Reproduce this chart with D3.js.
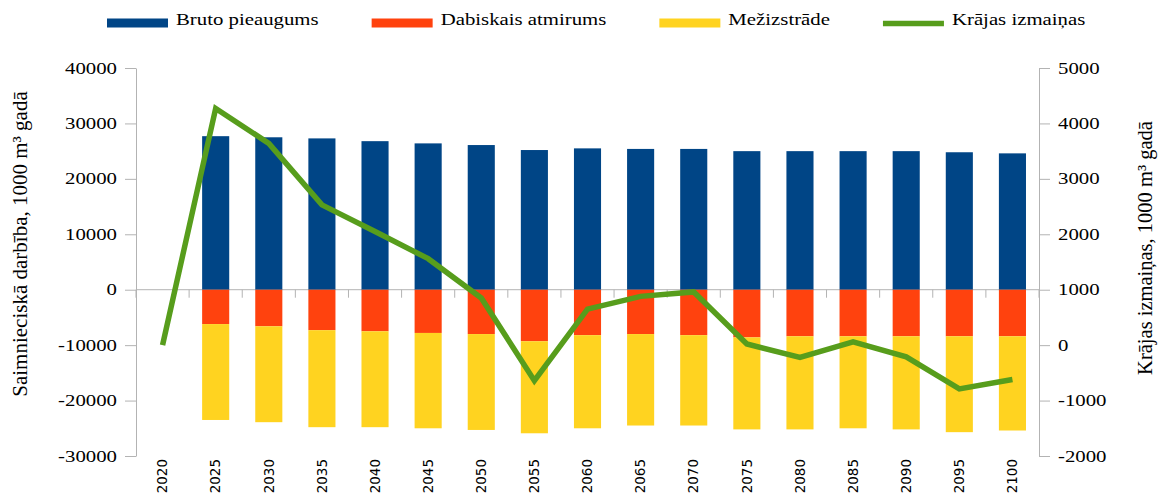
<!DOCTYPE html>
<html>
<head>
<meta charset="utf-8">
<script src="https://cdn.jsdelivr.net/npm/d3@7"></script>
<style>
  body { margin: 0; background: #fff; }
  svg { display: block; }
</style>
</head>
<body>
<svg id="chart"></svg>
<script>
// data
const years = ["2020", "2025", "2030", "2035", "2040", "2045", "2050", "2055", "2060",
  "2065", "2070", "2075", "2080", "2085", "2090", "2095", "2100"]
const bruto = [0, 27700, 27500, 27300, 26800, 26400, 26100, 25200, 25500,
  25400, 25400, 25000, 25000, 25000, 25000, 24800, 24600]
const atmirums = [0, -6200, -6600, -7300, -7500, -7800, -8000, -9300, -8200,
  -8000, -8200, -8600, -8400, -8400, -8400, -8400, -8400]
const mezizstrade = [0, -17300, -17300, -17500, -17300, -17200, -17300, -16600, -16800,
  -16500, -16300, -16600, -16800, -16600, -16800, -17300, -17000]
const krajas = [0, 4270, 3640, 2530, 2050, 1560, 850, -640, 650,
  880, 960, 20, -220, 60, -210, -790, -620]
const leftTicks = [-30000, -20000, -10000, 0, 10000, 20000, 30000, 40000]
const rightTicks = [-2000, -1000, 0, 1000, 2000, 3000, 4000, 5000]

const legendItems = [
  { key: "bruto", label: "Bruto pieaugums", type: "bar" },
  { key: "atmirums", label: "Dabiskais atmirums", type: "bar" },
  { key: "mezizstrade", label: "Mežizstrāde", type: "bar" },
  { key: "krajas", label: "Krājas izmaiņas", type: "line" }
]

const width = 1158
const height = 502
// the original text is drawn wider than it is tall
const stretch = 1.3
const plot = { left: 136, right: 1039, top: 68, bottom: 456 }
const colors = {
  bruto: "#004586",
  atmirums: "#ff420e",
  mezizstrade: "#ffd320",
  krajas: "#579d1c"
}
const axisColor = "#b3b3b3"
const serif = "'Liberation Serif', 'Times New Roman', serif"

const svg = d3.select("#chart")
  .attr("width", width)
  .attr("height", height)

const x = d3.scaleBand().domain(years).range([plot.left, plot.right])
const yL = d3.scaleLinear().domain([-30000, 40000]).range([plot.bottom, plot.top])
const yR = d3.scaleLinear().domain([-2000, 5000]).range([plot.bottom, plot.top])

const rows = years.map((year, i) => ({
  year: year,
  bruto: bruto[i],
  atmirums: atmirums[i],
  mezizstrade: mezizstrade[i]
}))
const series = d3.stack()
  .keys(["bruto", "atmirums", "mezizstrade"])
  .offset(d3.stackOffsetDiverging)(rows)

function styleAxis(g, side) {
  g.attr("font-family", serif).attr("font-size", 16)
  g.select(".domain").attr("stroke", axisColor)
  g.selectAll(".tick line").attr("stroke", axisColor)
  g.selectAll(".tick text")
    .attr("x", null)
    .attr("fill", "#000")
    .attr("transform", `translate(${side * 19},0) scale(${stretch},1)`)
}

// left axis
svg.append("g")
  .attr("transform", `translate(${plot.left},0)`)
  .call(d3.axisLeft(yL).tickValues(leftTicks).tickSize(11).tickSizeOuter(0).tickFormat(d => String(d)))
  .call(g => styleAxis(g, -1))

// right axis
svg.append("g")
  .attr("transform", `translate(${plot.right},0)`)
  .call(d3.axisRight(yR).tickValues(rightTicks).tickSize(11).tickSizeOuter(0).tickFormat(d => String(d)))
  .call(g => styleAxis(g, 1))

// category axis on the zero line
const zeroY = yL(0)
const xAxis = svg.append("g")
xAxis.append("line")
  .attr("x1", plot.left)
  .attr("x2", plot.right)
  .attr("y1", zeroY)
  .attr("y2", zeroY)
  .attr("stroke", axisColor)
xAxis.selectAll(".xtick")
  .data(years.map(d => x(d)).concat([plot.right]))
  .join("line")
  .attr("class", "xtick")
  .attr("x1", d => d)
  .attr("x2", d => d)
  .attr("y1", zeroY)
  .attr("y2", zeroY + 8)
  .attr("stroke", axisColor)

svg.append("g")
  .selectAll("text")
  .data(years)
  .join("text")
  .attr("transform", d => `translate(${x(d) + x.bandwidth() / 2},459) rotate(-90)`)
  .attr("text-anchor", "end")
  .attr("dy", "0.35em")
  .attr("font-family", "'DejaVu Sans', sans-serif")
  .attr("font-size", 13.5)
  .attr("fill", "#000")
  .text(d => d)

// stacked bars
const barW = x.bandwidth() * 0.51
svg.append("g")
  .selectAll("g")
  .data(series)
  .join("g")
  .attr("fill", d => colors[d.key])
  .selectAll("rect")
  .data(d => d)
  .join("rect")
  .attr("x", d => x(d.data.year) + (x.bandwidth() - barW) / 2)
  .attr("y", d => yL(Math.max(d[0], d[1])))
  .attr("width", barW)
  .attr("height", d => Math.abs(yL(d[0]) - yL(d[1])))

// stock change line on the right axis
const line = d3.line()
  .x((d, i) => x(years[i]) + x.bandwidth() / 2)
  .y(d => yR(d))

svg.append("path")
  .datum(krajas)
  .attr("d", line)
  .attr("fill", "none")
  .attr("stroke", colors.krajas)
  .attr("stroke-width", 5.5)

// axis titles
svg.append("text")
  .attr("transform", "translate(20,244) rotate(-90)")
  .attr("text-anchor", "middle")
  .attr("dy", "0.35em")
  .attr("font-family", serif)
  .attr("font-size", 21)
  .attr("fill", "#000")
  .text("Saimnieciskā darbība, 1000 m³ gadā")

svg.append("text")
  .attr("transform", "translate(1145,248) rotate(-90)")
  .attr("text-anchor", "middle")
  .attr("dy", "0.35em")
  .attr("font-family", serif)
  .attr("font-size", 20.5)
  .attr("fill", "#000")
  .text("Krājas izmaiņas, 1000 m³ gadā")

// legend
const legend = svg.append("g")
let cursor = 107
legendItems.forEach(item => {
  if (item.type == "bar") {
    legend.append("rect")
      .attr("x", cursor)
      .attr("y", 18.5)
      .attr("width", 61)
      .attr("height", 9)
      .attr("fill", colors[item.key])
  } else {
    legend.append("line")
      .attr("x1", cursor)
      .attr("x2", cursor + 61)
      .attr("y1", 23.5)
      .attr("y2", 23.5)
      .attr("stroke", colors[item.key])
      .attr("stroke-width", 5.5)
  }
  const label = legend.append("text")
    .attr("transform", `translate(${cursor + 69},25) scale(${stretch},1)`)
    .attr("font-family", serif)
    .attr("font-size", 16)
    .attr("fill", "#000")
    .text(item.label)
  cursor += 69 + label.node().getComputedTextLength() * stretch + 53
})
</script>
</body>
</html>
